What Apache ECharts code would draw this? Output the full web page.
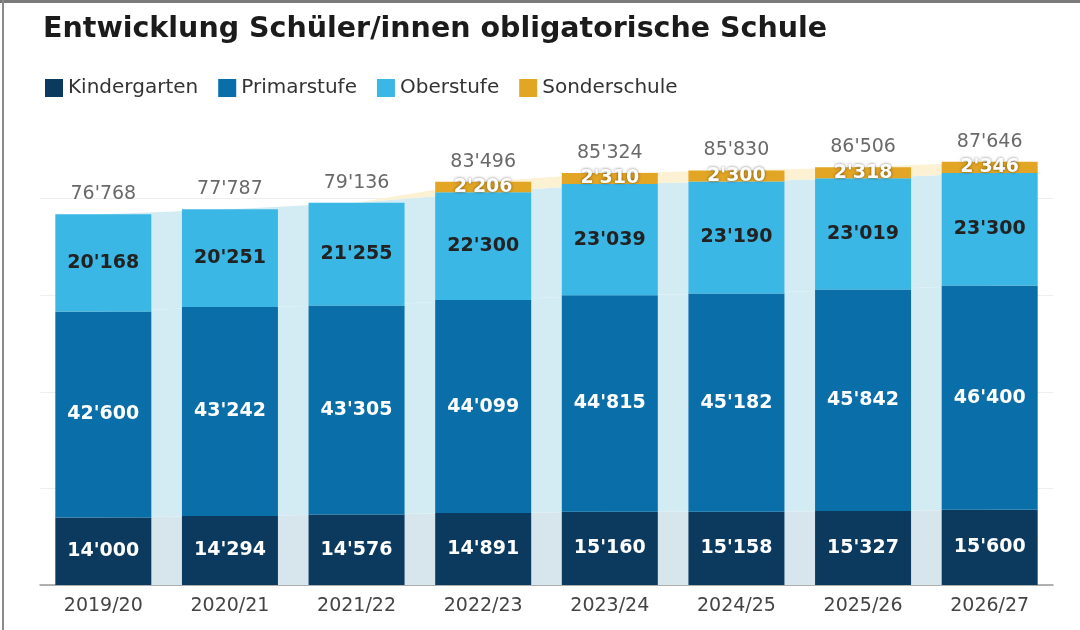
<!DOCTYPE html>
<html>
<head>
<meta charset="utf-8">
<script src="https://cdn.jsdelivr.net/npm/echarts@6/dist/echarts.min.js"></script>
<style>
  html, body { margin: 0; padding: 0; background: #fff; }
  #chart { width: 1080px; height: 630px; }
</style>
</head>
<body>
<div id="chart"></div>
<script>
// Schuljahre
const years = ['2019/20', '2020/21', '2021/22', '2022/23', '2023/24', '2024/25', '2025/26', '2026/27'];

// Schüler/innen je Stufe
const kindergarten = [14000, 14294, 14576, 14891, 15160, 15158, 15327, 15600];
const primarstufe  = [42600, 43242, 43305, 44099, 44815, 45182, 45842, 46400];
const oberstufe    = [20168, 20251, 21255, 22300, 23039, 23190, 23019, 23300];
const sonderschule = [null, null, null, 2206, 2310, 2300, 2318, 2346];

const totals = years.map((_, i) =>
  kindergarten[i] + primarstufe[i] + oberstufe[i] + (sonderschule[i] || 0));

const fmt = v => String(v).replace(/\B(?=(\d{3})+(?!\d))/g, "'");

const FONT = 'DejaVu Sans';

const chart = echarts.init(document.getElementById('chart'));

const labelBase = {
  show: true,
  position: 'inside',
  fontFamily: FONT,
  fontWeight: 'bold',
  fontSize: 19,
  formatter: p => (p.value == null ? '' : fmt(p.value))
};

function bar(name, data, color, textColor, extra) {
  return {
    name: name,
    type: 'bar',
    stack: 'total',
    barWidth: 96,
    z: 3,
    data: data,
    itemStyle: { color: color },
    label: Object.assign({}, labelBase, { color: textColor }, extra || {})
  };
}

function band(name, data, color) {
  return {
    name: name,
    type: 'line',
    stack: 'band',
    symbol: 'none',
    silent: true,
    z: 1,
    lineStyle: { width: 0 },
    areaStyle: { color: color, opacity: 1 },
    data: data
  };
}

const option = {
  animation: false,
  backgroundColor: '#fff',
  title: {
    text: 'Entwicklung Schüler/innen obligatorische Schule',
    left: 38,
    top: 10,
    textStyle: { fontFamily: FONT, fontWeight: 'bold', fontSize: 28.5, color: '#1b1b1b' }
  },
  legend: {
    data: ['Kindergarten', 'Primarstufe', 'Oberstufe', 'Sonderschule'],
    left: 40,
    top: 73,
    icon: 'rect',
    itemWidth: 18,
    itemHeight: 18,
    itemGap: 20,
    textStyle: { fontFamily: FONT, fontSize: 20, color: '#333' }
  },
  grid: { left: 40, right: 27, top: 102, bottom: 45 },
  xAxis: {
    type: 'category',
    data: years,
    axisTick: { show: false },
    axisLine: { lineStyle: { color: '#999', width: 1.5 } },
    axisLabel: { fontFamily: FONT, fontSize: 19, color: '#444', margin: 12 }
  },
  yAxis: {
    type: 'value',
    min: 0,
    max: 100000,
    interval: 20000,
    axisLabel: { show: false },
    axisLine: { show: false },
    axisTick: { show: false },
    splitLine: {
      lineStyle: { color: ['#eee', '#eee', '#eee', '#eee', '#eee', 'rgba(0,0,0,0)'], width: 1 }
    }
  },
  graphic: [
    { type: 'rect', shape: { x: 0, y: 0, width: 1080, height: 3 }, style: { fill: '#7a7a7a' }, z: 100 },
    { type: 'rect', shape: { x: 2, y: 0, width: 2, height: 630 }, style: { fill: '#8a8a8a' }, z: 100 }
  ],
  series: [
    band('Kindergarten-Band', kindergarten, '#d7e6ed'),
    band('Primarstufe-Band', primarstufe, '#d3ecf4'),
    band('Oberstufe-Band', oberstufe, '#d3ecf4'),
    band('Sonderschule-Band', sonderschule.map(v => v || 0), '#fcf1d3'),
    bar('Kindergarten', kindergarten, '#0c3a5e', '#fff'),
    bar('Primarstufe', primarstufe, '#0a6ea8', '#fff'),
    bar('Oberstufe', oberstufe, '#3bb7e6', '#222'),
    bar('Sonderschule', sonderschule, '#e2a524', '#fff', {
      textShadowColor: 'rgba(0,0,0,0.55)',
      textShadowBlur: 3
    }),
    {
      name: 'Total',
      type: 'scatter',
      symbolSize: 1,
      z: 4,
      silent: true,
      itemStyle: { color: 'rgba(0,0,0,0)' },
      data: totals,
      label: {
        show: true,
        position: 'top',
        distance: 10,
        fontFamily: FONT,
        fontSize: 19,
        color: '#444',
        formatter: p => fmt(p.value)
      }
    }
  ]
};

chart.setOption(option);
</script>
</body>
</html>
